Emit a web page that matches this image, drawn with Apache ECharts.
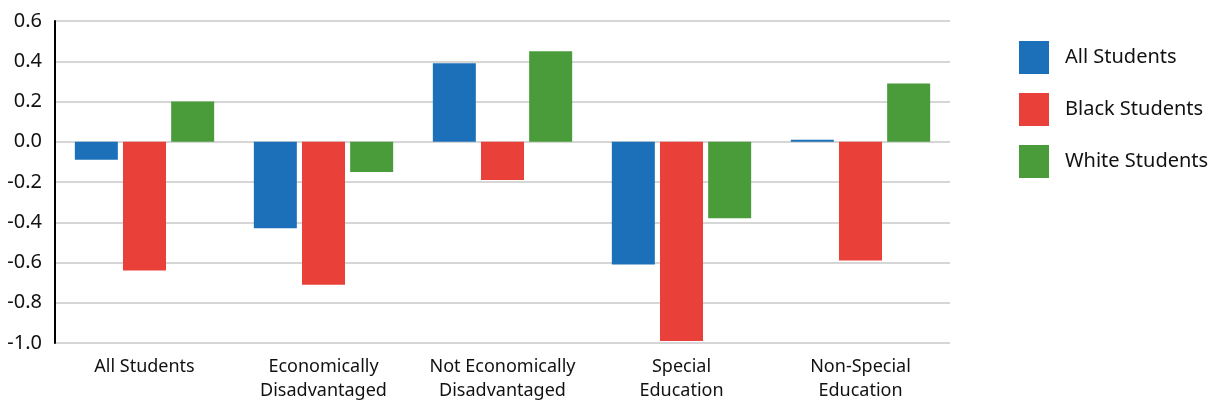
<!DOCTYPE html>
<html>
<head>
<meta charset="utf-8">
<script src="https://cdn.jsdelivr.net/npm/echarts@6/dist/echarts.min.js"></script>
<style>
  html, body { margin: 0; padding: 0; background: #fff; }
  #chart { width: 1214px; height: 407px; }
</style>
</head>
<body>
<div id="chart"></div>
<script>
// Student groups along the x axis
const categories = [
  'All Students',
  'Economically\nDisadvantaged',
  'Not Economically\nDisadvantaged',
  'Special\nEducation',
  'Non-Special\nEducation'
];

// Values per student population
const allStudents   = [-0.09, -0.43, 0.39, -0.61, 0.01];
const blackStudents = [-0.64, -0.71, -0.19, -0.99, -0.59];
const whiteStudents = [0.20, -0.15, 0.45, -0.38, 0.29];

const seriesNames = ['All Students', 'Black Students', 'White Students'];
const seriesColors = ['#1c70b9', '#e9413a', '#4a9c3b'];

const FONT = '"Noto Sans", "Open Sans", sans-serif';

const chart = echarts.init(document.getElementById('chart'), null, { renderer: 'canvas' });

function bar(name, data, color) {
  return {
    name: name,
    type: 'bar',
    data: data,
    barWidth: 43,
    barGap: '12%',
    itemStyle: { color: color },
    emphasis: { disabled: true }
  };
}

chart.setOption({
  animation: false,
  backgroundColor: '#ffffff',
  grid: { left: 55, right: 264, top: 21, bottom: 64, containLabel: false },
  legend: {
    orient: 'vertical',
    left: 1014,
    top: 36,
    itemWidth: 30,
    itemHeight: 33,
    itemGap: 19,
    icon: 'rect',
    textStyle: { fontFamily: FONT, fontSize: 20, color: '#111', padding: [0, 0, 0, 11] },
    data: seriesNames
  },
  xAxis: {
    type: 'category',
    data: categories,
    axisLine: { show: false },
    axisTick: { show: false },
    axisLabel: {
      interval: 0,
      fontFamily: FONT,
      fontSize: 18,
      color: '#111',
      lineHeight: 24,
      margin: 12
    }
  },
  yAxis: {
    type: 'value',
    min: -1.0,
    max: 0.6,
    interval: 0.2,
    axisLine: { show: true, lineStyle: { color: '#000', width: 2 } },
    axisTick: { show: false },
    axisLabel: {
      fontFamily: FONT,
      fontSize: 20,
      color: '#111',
      margin: 13,
      formatter: v => v.toFixed(1)
    },
    splitLine: { lineStyle: { color: '#d6d6d6', width: 2 } }
  },
  series: [
    bar(seriesNames[0], allStudents, seriesColors[0]),
    bar(seriesNames[1], blackStudents, seriesColors[1]),
    bar(seriesNames[2], whiteStudents, seriesColors[2])
  ]
});
</script>
</body>
</html>
